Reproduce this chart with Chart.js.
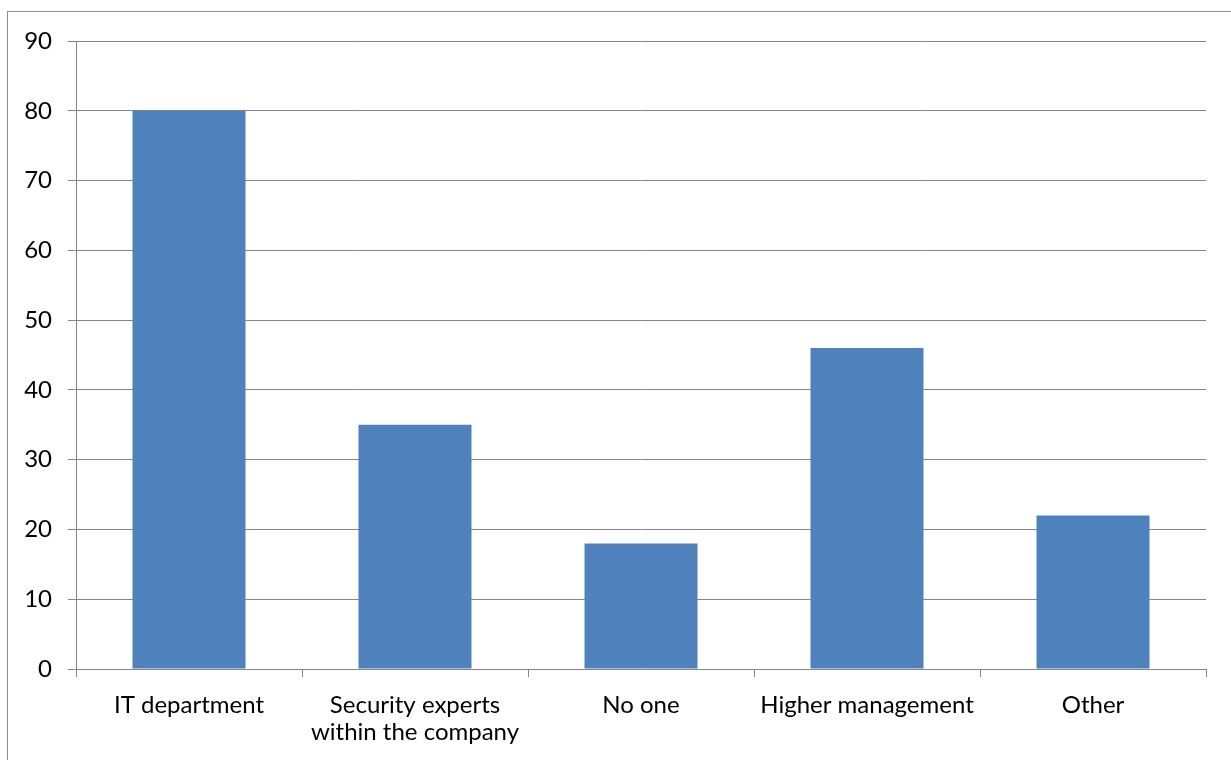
<!DOCTYPE html>
<html>
<head>
<meta charset="utf-8">
<script src="https://cdn.jsdelivr.net/npm/chart.js@4.4.1/dist/chart.umd.min.js"></script>
<style>
  html, body { margin: 0; padding: 0; background: #fff; }
  #wrap { position: relative; width: 1231px; height: 760px; }
  #frame { position: absolute; left: 7px; top: 11px; width: 1240px; height: 770px; border: 1px solid #8c8c8c; box-sizing: border-box; }
  canvas { position: absolute; left: 0; top: 0; }
</style>
</head>
<body>
<div id="wrap">
  <div id="frame"></div>
  <canvas id="c" width="1231" height="760"></canvas>
</div>
<script>
const categories = [["IT department"], ["Security experts", "within the company"], ["No one"], ["Higher management"], ["Other"]];
const values = [80, 35, 18, 46, 22];
const yMin = 0;
const yMax = 90;
const yStep = 10;

const FONT = "Lato, 'Open Sans', sans-serif";

new Chart(document.getElementById('c'), {
  type: 'bar',
  data: {
    labels: categories,
    datasets: [{
      data: values,
      backgroundColor: '#4F81BD',
      borderWidth: 0,
      barPercentage: 0.5,
      categoryPercentage: 1.0
    }]
  },
  options: {
    responsive: false,
    animation: false,
    layout: { padding: { left: 0, right: 25, top: 41, bottom: 0 } },
    plugins: { legend: { display: false }, tooltip: { enabled: false } },
    scales: {
      x: {
        offset: true,
        grid: { offset: true, drawOnChartArea: false, drawTicks: true, tickLength: 8, color: '#868686' },
        border: { color: '#868686', width: 1 },
        ticks: { color: '#000', font: { family: FONT, size: 24, lineHeight: 1.13 }, padding: 15, maxRotation: 0, autoSkip: false },
        afterFit: (s) => { s.height = 91; }
      },
      y: {
        min: yMin, max: yMax,
        grid: { color: '#868686', tickLength: 8, drawTicks: true },
        border: { color: '#868686', width: 1 },
        ticks: { stepSize: yStep, color: '#000', font: { family: FONT, size: 24 }, padding: 16 },
        afterFit: (s) => { s.width = 76; }
      }
    }
  }
});
</script>
</body>
</html>
